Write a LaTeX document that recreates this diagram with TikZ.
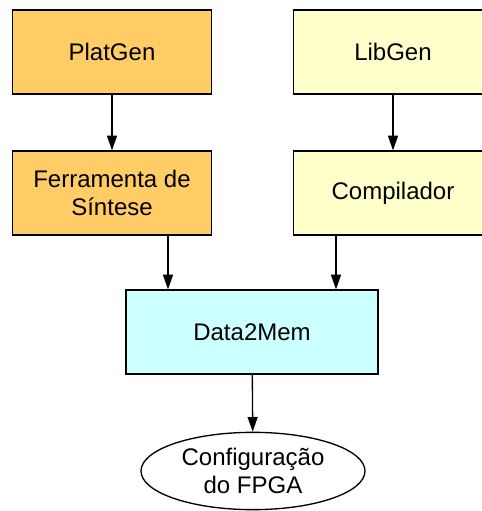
\documentclass[tikz,border=0pt]{standalone}
\usepackage{fontspec}
\setmainfont{Liberation Sans}
\usetikzlibrary{shapes.geometric,arrows.meta}

\definecolor{laranja}{RGB}{255,204,102}
\definecolor{amarelo}{RGB}{255,255,204}
\definecolor{ciano}{RGB}{204,255,255}

\tikzset{every picture/.style={line width=1pt}}
\tikzset{
  caixa/.style={draw=black, rectangle, minimum width=149pt, minimum height=63pt, align=center, inner sep=0.75pt, font=\fontsize{18}{21.6}\selectfont},
  elipse/.style={draw=black, ellipse, minimum width=168pt, minimum height=58pt, align=center, inner sep=0.75pt, font=\fontsize{18}{21.6}\selectfont},
  seta/.style={-{Triangle[length=11pt,width=7.5pt]}}
}

\begin{document}
\begin{tikzpicture}[x=0.75pt,y=0.75pt,yscale=-1,xscale=1]
\useasboundingbox (0,0) rectangle (482,511);

% Caixas
\node [caixa, fill=laranja] (PlatGen) at (112,52) {PlatGen};
\node [caixa, fill=laranja] (Sintese) at (112,193) {Ferramenta de\\Síntese};
\node [caixa, fill=amarelo] (LibGen) at (393,52) {LibGen};
\node [caixa, fill=amarelo] (Compilador) at (393,193) {Compilador};
\node [caixa, fill=ciano, minimum width=189pt] (Data2Mem) at (252,332) {Data2Mem};
% Elipse
\node [elipse] (Config) at (253,471) {Configuração\\do FPGA};

% Setas
\draw [seta] (PlatGen) -- (Sintese);
\draw [seta] (LibGen) -- (Compilador);
\draw [seta] ([xshift=42pt]Sintese.south) -- ([xshift=42pt]Sintese.south |- Data2Mem.north);
\draw [seta] ([xshift=-42.75pt]Compilador.south) -- ([xshift=-42.75pt]Compilador.south |- Data2Mem.north);
\draw [seta] (Data2Mem) -- (Config);

\end{tikzpicture}
\end{document}
